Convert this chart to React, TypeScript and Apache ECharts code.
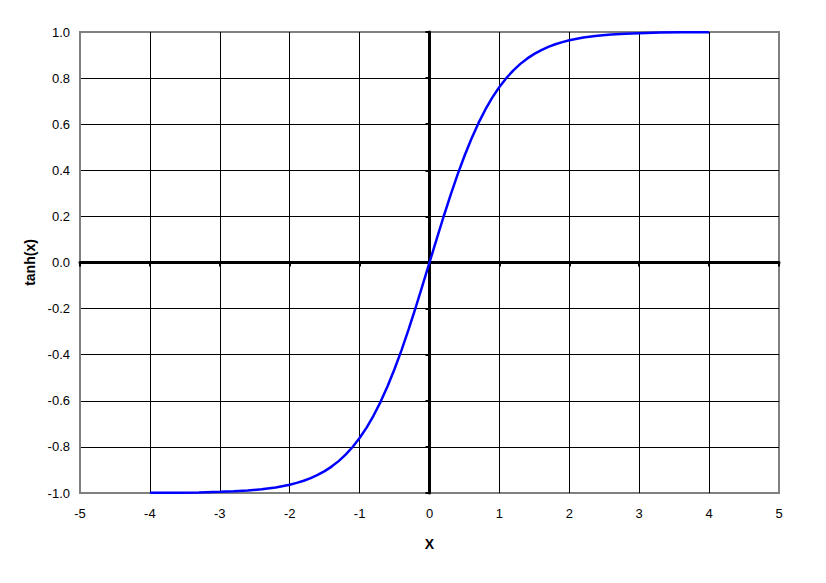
import React, { useEffect, useRef } from "react";
import * as echarts from "echarts";

const xPositive = [0, 0.1, 0.2, 0.3, 0.4, 0.5, 0.6, 0.7, 0.8, 0.9, 1.0, 1.1, 1.2, 1.3, 1.4, 1.5, 1.6, 1.7, 1.8, 1.9, 2.0,
  2.2, 2.4, 2.6, 2.8, 3.0, 3.3, 3.6, 4.0];
const yPositive = [0, 0.0997, 0.1974, 0.2913, 0.3799, 0.4621, 0.537, 0.6044, 0.664, 0.7163, 0.7616, 0.8005, 0.8337, 0.8617,
  0.8854, 0.9051, 0.9217, 0.9354, 0.9468, 0.9562, 0.964, 0.9757, 0.9837, 0.989, 0.9926, 0.9951, 0.9973, 0.9985, 0.9993];
const xNegative = [-4.0, -3.6, -3.3, -3.0, -2.8, -2.6, -2.4, -2.2, -2.0, -1.9, -1.8, -1.7, -1.6, -1.5, -1.4, -1.3, -1.2,
  -1.1, -1.0, -0.9, -0.8, -0.7, -0.6, -0.5, -0.4, -0.3, -0.2, -0.1];
const yNegative = [-0.9993, -0.9985, -0.9973, -0.9951, -0.9926, -0.989, -0.9837, -0.9757, -0.964, -0.9562, -0.9468, -0.9354,
  -0.9217, -0.9051, -0.8854, -0.8617, -0.8337, -0.8005, -0.7616, -0.7163, -0.664, -0.6044, -0.537, -0.4621, -0.3799,
  -0.2913, -0.1974, -0.0997];
const xAxisName = "X";
const yAxisName = "tanh(x)";

const font = "'Liberation Sans', Arial, Helvetica, sans-serif";

export default function App() {
  const ref = useRef<HTMLDivElement>(null);
  useEffect(() => {
    const chart = echarts.init(ref.current!, null, { renderer: "svg" });
    const gridLineColors = ["#808080", "#000", "#000", "#000", "#000", "#000", "#000", "#000", "#000", "#000", "#808080"];
    const xs = [...xNegative, ...xPositive];
    const ys = [...yNegative, ...yPositive];
    chart.setOption({
      animation: false,
      backgroundColor: "#ffffff",
      grid: {
        left: 80, top: 32, width: 699, height: 461,
        show: true, borderColor: "#808080", borderWidth: 2, backgroundColor: "transparent",
      },
      xAxis: [
        {
          type: "value", min: -5, max: 5, interval: 1, position: "bottom",
          axisLine: { show: false, onZero: false },
          axisTick: { show: false },
          axisLabel: { color: "#000", fontSize: 13, fontFamily: font, margin: 14 },
          splitLine: { show: true, lineStyle: { color: gridLineColors, width: 1 } },
          name: xAxisName, nameLocation: "middle", nameGap: 44,
          nameTextStyle: { fontWeight: "bold", fontSize: 14, fontFamily: font, color: "#000" },
        },
        {
          type: "value", min: -5, max: 5, interval: 1, position: "bottom",
          axisLine: { show: true, onZero: true, lineStyle: { color: "#000", width: 3 } },
          axisTick: { show: true, length: 4, lineStyle: { color: "#000", width: 2 } },
          axisLabel: { show: false },
          splitLine: { show: false },
        },
      ],
      yAxis: [
        {
          type: "value", min: -1, max: 1, interval: 0.2, position: "left",
          axisLine: { show: false, onZero: false },
          axisTick: { show: false },
          axisLabel: {
            color: "#000", fontSize: 13, fontFamily: font, margin: 10,
            formatter: (v: number) => v.toFixed(1),
          },
          splitLine: { show: true, lineStyle: { color: gridLineColors, width: 1 } },
          name: yAxisName, nameLocation: "middle", nameGap: 43, nameRotate: 90,
          nameTextStyle: { fontWeight: "bold", fontSize: 14, fontFamily: font, color: "#000" },
        },
        {
          type: "value", min: -1, max: 1, interval: 0.2, position: "left",
          axisLine: { show: true, onZero: true, lineStyle: { color: "#000", width: 3 } },
          axisTick: { show: true, length: 4, lineStyle: { color: "#000", width: 2 } },
          axisLabel: { show: false },
          splitLine: { show: false },
        },
      ],
      series: [
        {
          type: "line",
          xAxisIndex: 0, yAxisIndex: 0,
          data: xs.map((x, i) => [x, ys[i]]),
          showSymbol: false, symbol: "none",
          smooth: false,
          lineStyle: { color: "#0000ff", width: 2.5 },
          z: 10,
        },
      ],
    });
    return () => chart.dispose();
  }, []);
  return (
    <div
      ref={ref}
      style={{ position: "fixed", left: 0, top: 0, width: 826, height: 583, background: "#fff" }}
    />
  );
}
